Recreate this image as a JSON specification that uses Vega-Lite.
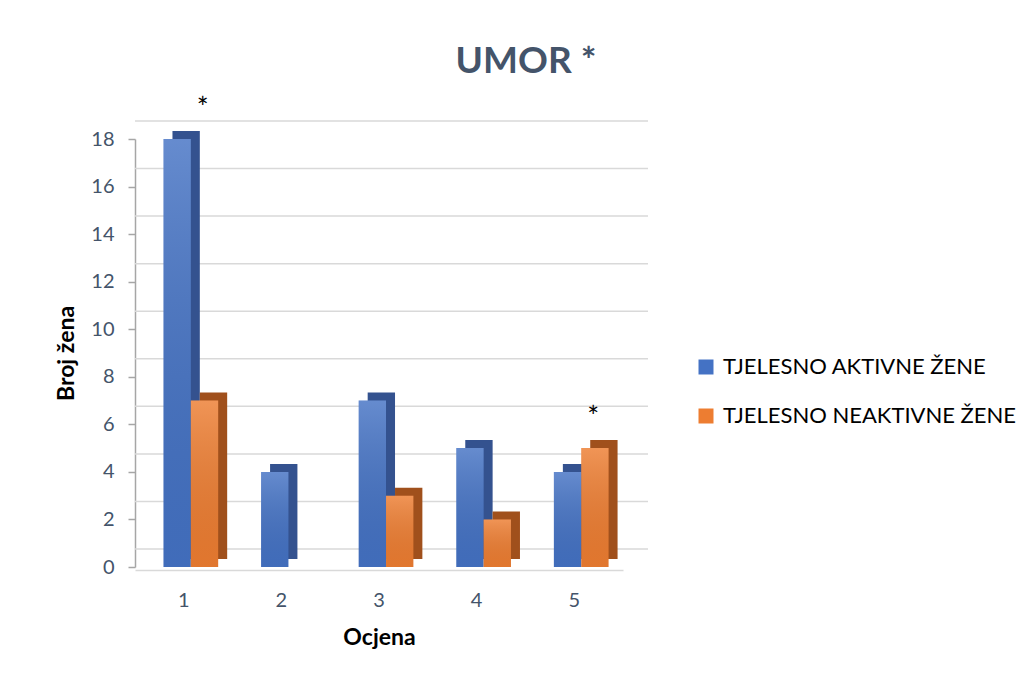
{
  "$schema": "https://vega.github.io/schema/vega-lite/v6.json",
  "autosize": {"type": "none"},
  "width": 488,
  "height": 428,
  "padding": {"left": 135, "top": 139, "right": 409, "bottom": 123},
  "background": "white",
  "config": {
    "font": "Lato",
    "view": {"stroke": null}
  },
  "title": {
    "text": "UMOR *",
    "font": "Lato",
    "fontSize": 37,
    "fontWeight": "bold",
    "color": "#44546A",
    "anchor": "middle",
    "frame": "group",
    "dx": 147,
    "offset": 15
  },
  "datasets": {
    "bars": [
      {"ocjena": "1", "serija": "TJELESNO AKTIVNE ŽENE", "broj": 18, "zvjezdica": "*"},
      {"ocjena": "1", "serija": "TJELESNO NEAKTIVNE ŽENE", "broj": 7, "zvjezdica": ""},
      {"ocjena": "2", "serija": "TJELESNO AKTIVNE ŽENE", "broj": 4, "zvjezdica": ""},
      {"ocjena": "2", "serija": "TJELESNO NEAKTIVNE ŽENE", "broj": 0, "zvjezdica": ""},
      {"ocjena": "3", "serija": "TJELESNO AKTIVNE ŽENE", "broj": 7, "zvjezdica": ""},
      {"ocjena": "3", "serija": "TJELESNO NEAKTIVNE ŽENE", "broj": 3, "zvjezdica": ""},
      {"ocjena": "4", "serija": "TJELESNO AKTIVNE ŽENE", "broj": 5, "zvjezdica": ""},
      {"ocjena": "4", "serija": "TJELESNO NEAKTIVNE ŽENE", "broj": 2, "zvjezdica": ""},
      {"ocjena": "5", "serija": "TJELESNO AKTIVNE ŽENE", "broj": 4, "zvjezdica": ""},
      {"ocjena": "5", "serija": "TJELESNO NEAKTIVNE ŽENE", "broj": 5, "zvjezdica": "*"}
    ],
    "grid": [
      {"v": 0}, {"v": 2}, {"v": 4}, {"v": 6}, {"v": 8},
      {"v": 10}, {"v": 12}, {"v": 14}, {"v": 16}, {"v": 18}
    ]
  },
  "data": {"name": "bars"},
  "encoding": {
    "x": {
      "field": "ocjena",
      "type": "nominal",
      "scale": {"paddingInner": 0.44, "paddingOuter": 0.22},
      "axis": {
        "title": "Ocjena",
        "labelAngle": 0,
        "labelFont": "Lato",
        "labelFontSize": 20,
        "labelColor": "#44546A",
        "labelPadding": 20,
        "ticks": false,
        "domainColor": "#D9D9D9",
        "domainWidth": 1.5,
        "offset": 3,
        "titleFont": "Lato",
        "titleFontSize": 23,
        "titleFontWeight": "bold",
        "titleColor": "#000000",
        "titlePadding": 16
      }
    },
    "y": {
      "field": "broj",
      "type": "quantitative",
      "scale": {"domain": [0, 18], "nice": false},
      "axis": {
        "title": "Broj žena",
        "values": [0, 2, 4, 6, 8, 10, 12, 14, 16, 18],
        "grid": false,
        "labelFont": "Lato",
        "labelFontSize": 20,
        "labelColor": "#44546A",
        "labelPadding": 14,
        "tickSize": 7,
        "tickColor": "#A6A6A6",
        "tickWidth": 1.5,
        "domainColor": "#A6A6A6",
        "domainWidth": 1.5,
        "titleFont": "Lato",
        "titleFontSize": 23,
        "titleFontWeight": "bold",
        "titleColor": "#000000",
        "titlePadding": 12
      }
    }
  },
  "layer": [
    {
      "data": {"name": "grid"},
      "mark": {"type": "rule", "color": "#D9D9D9", "strokeWidth": 1.5, "xOffset": 25, "yOffset": -18},
      "encoding": {
        "x": null,
        "y": {"field": "v", "type": "quantitative"}
      }
    },
    {
      "mark": {"type": "bar", "yOffset": -8},
      "encoding": {
        "xOffset": {"field": "serija", "type": "nominal", "scale": {"range": [16, 70.7], "paddingInner": 0, "paddingOuter": 0}},
        "color": {
          "field": "serija",
          "type": "nominal",
          "scale": {"domain": ["TJELESNO AKTIVNE ŽENE", "TJELESNO NEAKTIVNE ŽENE"], "range": ["#34528F", "#A0501C"]},
          "legend": null
        }
      }
    },
    {
      "mark": {"type": "bar"},
      "encoding": {
        "xOffset": {"field": "serija", "type": "nominal", "scale": {"range": [7, 61.7], "paddingInner": 0, "paddingOuter": 0}},
        "color": {
          "field": "serija",
          "type": "nominal",
          "scale": {"domain": ["TJELESNO AKTIVNE ŽENE", "TJELESNO NEAKTIVNE ŽENE"], "range": ["#4472C4", "#ED7D31"]},
          "legend": {
            "title": null,
            "orient": "none",
            "legendX": 560,
            "legendY": 217,
            "symbolType": "square",
            "symbolSize": 225,
            "symbolStrokeWidth": 0,
            "labelFont": "Lato",
            "labelFontSize": 22,
            "labelColor": "#000000",
            "labelOffset": 6,
            "rowPadding": 27,
            "labelLimit": 400
          }
        }
      }
    },
    {
      "mark": {
        "type": "bar",
        "fill": {
          "gradient": "linear",
          "x1": 0, "y1": 0, "x2": 0, "y2": 1,
          "stops": [
            {"offset": 0, "color": "rgba(255,255,255,0.18)"},
            {"offset": 1, "color": "rgba(0,0,0,0.05)"}
          ]
        }
      },
      "encoding": {
        "xOffset": {"field": "serija", "type": "nominal", "scale": {"range": [7, 61.7], "paddingInner": 0, "paddingOuter": 0}}
      }
    },
    {
      "transform": [{"filter": "datum.zvjezdica != ''"}],
      "mark": {"type": "text", "font": "Lato", "fontSize": 28, "color": "#000000", "dx": 19, "dy": -29, "baseline": "middle"},
      "encoding": {
        "text": {"field": "zvjezdica"}
      }
    }
  ],
  "resolve": {
    "scale": {"color": "independent", "xOffset": "independent"},
    "legend": {"color": "independent"}
  }
}
